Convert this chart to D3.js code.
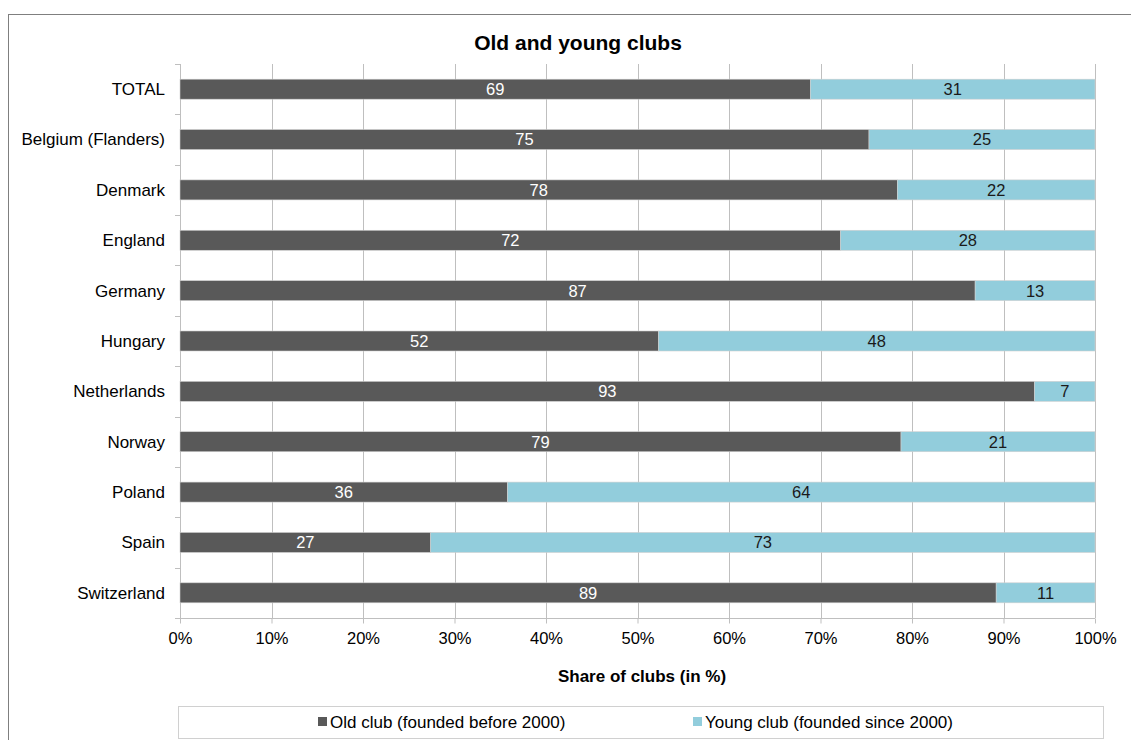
<!DOCTYPE html>
<html>
<head>
<meta charset="utf-8">
<script src="https://cdn.jsdelivr.net/npm/d3@7"></script>
<style>
  html, body { margin: 0; padding: 0; background: #fff; }
  svg { display: block; font-family: "Liberation Sans", Arial, sans-serif; }
</style>
</head>
<body>
<svg id="chart" width="1131" height="740"></svg>
<script>
const categories = ["TOTAL", "Belgium (Flanders)", "Denmark", "England", "Germany", "Hungary", "Netherlands", "Norway", "Poland", "Spain", "Switzerland"];
const oldClub = [68.9, 75.3, 78.4, 72.2, 86.9, 52.3, 93.4, 78.8, 35.8, 27.4, 89.2];
const youngClub = [31.1, 24.7, 21.6, 27.8, 13.1, 47.7, 6.6, 21.2, 64.2, 72.6, 10.8];
const xTicks = [0, 10, 20, 30, 40, 50, 60, 70, 80, 90, 100];
const seriesNames = ["Old club (founded before 2000)", "Young club (founded since 2000)"];
const colors = ["#595959", "#92CDDC"];
const labelColors = ["#ffffff", "#1a1a1a"];

const svg = d3.select("#chart");

// outer frame
svg.append("rect").attr("x", 8.5).attr("y", 14.5).attr("width", 1140).attr("height", 740)
  .attr("fill", "none").attr("stroke", "#7f7f7f").attr("stroke-width", 1);

const x = d3.scaleLinear().domain([0, 100]).range([180, 1095]);
const yBand = d3.scaleBand().domain(categories).range([64, 618]);

// title
svg.append("text").attr("x", 578).attr("y", 50).attr("text-anchor", "middle")
  .attr("font-size", 21).attr("font-weight", "bold").attr("fill", "#000").text("Old and young clubs");

// gridlines
svg.append("g").selectAll("line").data(xTicks.slice(1)).join("line")
  .attr("x1", d => Math.round(x(d)) + 0.5).attr("x2", d => Math.round(x(d)) + 0.5)
  .attr("y1", 64).attr("y2", 618).attr("stroke", "#bfbfbf").attr("stroke-width", 1);

// x axis
const xAxis = svg.append("g").attr("transform", "translate(0,618.5)")
  .call(d3.axisBottom(x).tickValues(xTicks).tickFormat(d => d + "%").tickSize(5).tickSizeOuter(0));
xAxis.select(".domain").attr("stroke", "#bfbfbf").attr("d", "M175,0H1095");
xAxis.selectAll(".tick line").attr("stroke", "#bfbfbf");
xAxis.selectAll(".tick text").attr("font-size", 16.5).attr("fill", "#000").attr("dy", "0.71em").attr("y", 14)
  .attr("font-family", "Liberation Sans, Arial, sans-serif");

// y axis line and ticks
svg.append("line").attr("x1", 180.5).attr("x2", 180.5).attr("y1", 64).attr("y2", 618)
  .attr("stroke", "#bfbfbf");
const bounds = categories.map(c => yBand(c)).concat([618]);
svg.append("g").selectAll("line").data(bounds).join("line")
  .attr("x1", 175).attr("x2", 180).attr("y1", d => Math.round(d) + 0.5).attr("y2", d => Math.round(d) + 0.5)
  .attr("stroke", "#bfbfbf");

// y labels
svg.append("g").selectAll("text").data(categories).join("text")
  .attr("x", 165).attr("y", d => yBand(d) + yBand.bandwidth() / 2)
  .attr("dy", "0.35em").attr("text-anchor", "end").attr("font-size", 17).attr("fill", "#000").text(d => d);

// stacked bars
const rows = categories.map((c, i) => ({ cat: c, old: oldClub[i], young: youngClub[i] }));
const stack = d3.stack().keys(["old", "young"])(rows);
const barH = 20;
stack.forEach((layer, li) => {
  const g = svg.append("g");
  g.selectAll("rect").data(layer).join("rect")
    .attr("x", d => x(d[0])).attr("width", d => x(d[1]) - x(d[0]))
    .attr("y", d => yBand(d.data.cat) + yBand.bandwidth() / 2 - barH / 2).attr("height", barH)
    .attr("fill", colors[li]).attr("stroke", "#d0d0d0").attr("stroke-width", 0.6);
  g.selectAll("text").data(layer).join("text")
    .attr("x", d => (x(d[0]) + x(d[1])) / 2).attr("y", d => yBand(d.data.cat) + yBand.bandwidth() / 2)
    .attr("dy", "0.36em").attr("text-anchor", "middle").attr("font-size", 16.5)
    .attr("fill", labelColors[li]).text(d => Math.round(d[1] - d[0]));
});

// axis title
svg.append("text").attr("x", 642).attr("y", 682).attr("text-anchor", "middle")
  .attr("font-size", 17).attr("font-weight", "bold").attr("fill", "#000").text("Share of clubs (in %)");

// legend
svg.append("rect").attr("x", 178.5).attr("y", 706.5).attr("width", 925).attr("height", 32)
  .attr("fill", "#fff").attr("stroke", "#d0d0d0");
const legendX = [318, 693];
const lg = svg.append("g").selectAll("g").data(seriesNames).join("g")
  .attr("transform", (d, i) => `translate(${legendX[i]},722)`);
lg.append("rect").attr("x", 0).attr("y", -5).attr("width", 9).attr("height", 9).attr("fill", (d, i) => colors[i]);
lg.append("text").attr("x", 12).attr("y", 0).attr("dy", "0.35em").attr("font-size", 17).attr("fill", "#000").text(d => d);
</script>
</body>
</html>
